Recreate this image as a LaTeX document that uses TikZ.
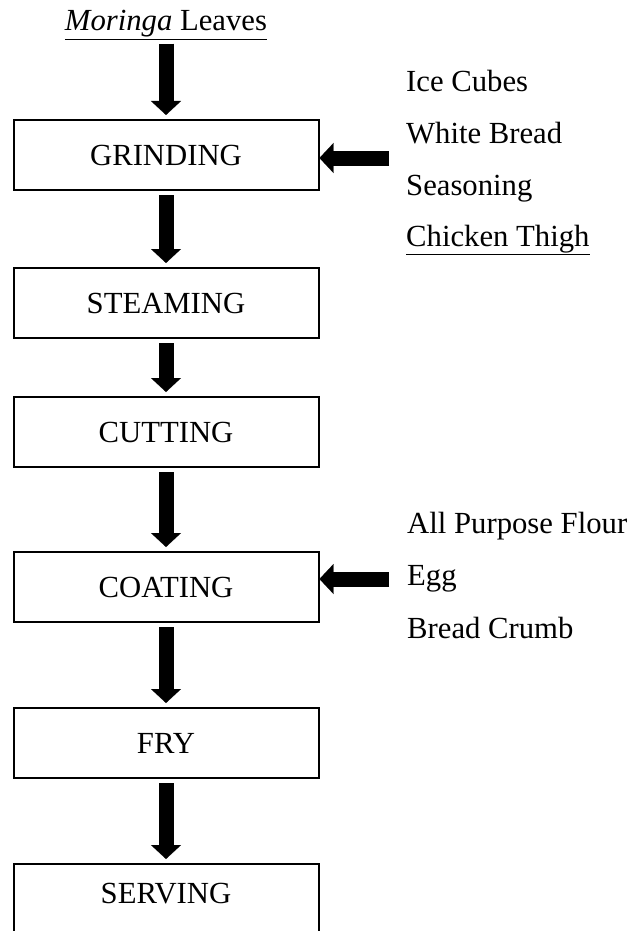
\documentclass[tikz,border=0pt]{standalone}
\usepackage{fontspec}
\setmainfont{Liberation Serif}
\usetikzlibrary{arrows.meta}

\tikzset{
	stepbox/.style={draw, line width=2pt, minimum width=305pt, minimum height=70pt, inner sep=0pt},
	ingr/.style={anchor=base west, inner sep=0pt},
	fatarrow/.style={line width=15pt, shorten <=4pt, shorten >=4pt, -{Triangle[width=30pt,length=14pt,line width=0.1pt]}}
}

\begin{document}
\begin{tikzpicture}[x=1pt,y=1pt,font=\fontsize{30.7}{36}\selectfont]
	\useasboundingbox (0,0) rectangle (642,-931);
	%\node (leaves) at (166,-22) {\textit{Moringa} Leaves};
	\node[anchor=base, inner sep=0pt] (leaves) at (166,-31) {\underline{\textit{Moringa} Leaves}};

	\node[stepbox] (grind) at (166,-155) {GRINDING};
	\node[stepbox] (steam) at (166,-303) {STEAMING};
	\node[stepbox] (cut) at (166,-432) {CUTTING};
	\node[stepbox] (coat) at (166,-587) {COATING};
	\node[stepbox] (fry) at (166,-743) {FRY};
	\node[stepbox, text depth=12pt] (serve) at (166,-899) {SERVING};

	\node[ingr] (ice) at (406,-92) {Ice Cubes};
	\node[ingr] (bread) at (406,-143) {White Bread};
	\node[ingr] (season) at (406,-195) {Seasoning};
	\node[ingr] (chicken) at (406,-246) {\underline{Chicken Thigh}};

	\node[ingr] (flour) at (407,-533) {All Purpose Flour};
	\node[ingr] (egg) at (407,-585) {Egg};
	\node[ingr] (crumb) at (407,-638) {Bread Crumb};

	\coordinate (gin) at (389,-158);
	\coordinate (cin) at (389,-579);

	\path[fatarrow]
	(leaves) edge (grind)
	(grind) edge (steam)
	(steam) edge (cut)
	(cut) edge (coat)
	(coat) edge (fry)
	(fry) edge (serve)
	(gin) edge[shorten <=0pt, shorten >=0pt] (gin -| grind.east)
	(cin) edge[shorten <=0pt, shorten >=0pt] (cin -| coat.east)
	;
\end{tikzpicture}
\end{document}
